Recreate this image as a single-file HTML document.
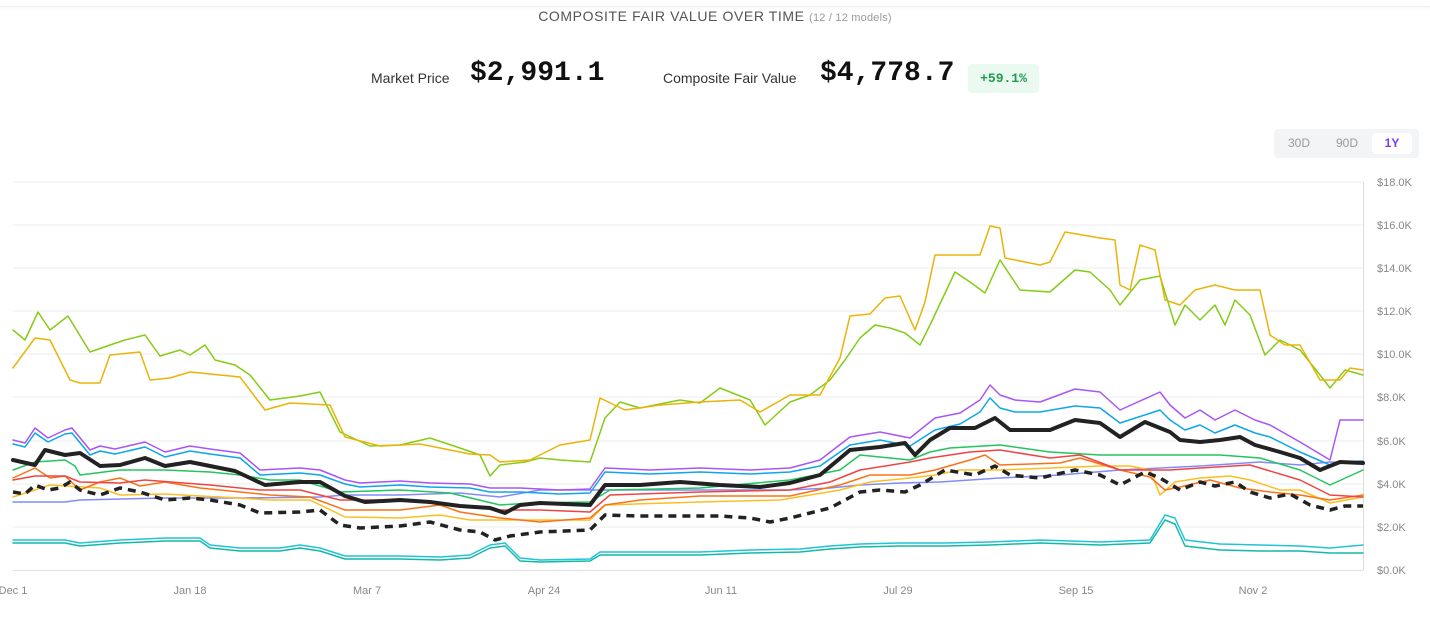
<!DOCTYPE html>
<html><head><meta charset="utf-8"><style>
body{margin:0;width:1430px;height:620px;background:#fff;font-family:"Liberation Sans",sans-serif;position:relative;overflow:hidden}
.topline{position:absolute;left:0;top:0;width:1430px;height:6px;border-bottom:1px solid #f0f0f0;box-shadow:0 1px 3px rgba(0,0,0,0.04)}
.title{position:absolute;top:8px;left:0;width:1430px;text-align:center;font-size:14px;color:#555;letter-spacing:0.6px}
.title small{font-size:11px;color:#999;letter-spacing:0.2px}
.lbl{position:absolute;font-size:14px;color:#333}
.big{position:absolute;font-family:"Liberation Mono",monospace;font-weight:bold;font-size:28px;color:#111}
.badge{position:absolute;left:968px;top:64px;width:71px;height:29px;background:#eafaf0;border-radius:4px;color:#1f9d4a;font-family:"Liberation Mono",monospace;font-size:13px;font-weight:bold;text-align:center;line-height:29px}
.btns{position:absolute;left:1274px;top:129px;width:145px;height:29px;background:#f3f4f6;border-radius:4px}
.btns span{position:absolute;top:4px;height:21px;line-height:21px;font-size:12px;color:#999;text-align:center;width:40px}
.btns .on{background:#fff;color:#7c3aed;font-weight:bold;border-radius:4px}
</style></head><body>
<div class="topline"></div>
<div class="title">COMPOSITE FAIR VALUE OVER TIME <small>(12 / 12 models)</small></div>
<div class="lbl" style="left:371px;top:70px">Market Price</div>
<div class="big" style="left:470px;top:58px">$2,991.1</div>
<div class="lbl" style="left:663px;top:70px">Composite Fair Value</div>
<div class="big" style="left:820px;top:58px">$4,778.7</div>
<div class="badge">+59.1%</div>
<div class="btns"><span style="left:5px">30D</span><span style="left:53px">90D</span><span class="on" style="left:98px">1Y</span></div>
<svg width="1430" height="620" style="position:absolute;left:0;top:0" font-family="Liberation Sans, sans-serif">
<g stroke="#eee" stroke-width="1">
<line x1="13" x2="1363" y1="182" y2="182"/><line x1="13" x2="1363" y1="225" y2="225"/><line x1="13" x2="1363" y1="268" y2="268"/><line x1="13" x2="1363" y1="311" y2="311"/><line x1="13" x2="1363" y1="354" y2="354"/><line x1="13" x2="1363" y1="397" y2="397"/><line x1="13" x2="1363" y1="441" y2="441"/><line x1="13" x2="1363" y1="484" y2="484"/><line x1="13" x2="1363" y1="527" y2="527"/>
</g>
<line x1="13" x2="1363" y1="570.5" y2="570.5" stroke="#ddd"/>
<line x1="1363.5" x2="1363.5" y1="182" y2="570" stroke="#ddd"/>
<g font-size="11" fill="#888">
<text x="1377" y="186">$18.0K</text><text x="1377" y="229">$16.0K</text><text x="1377" y="272">$14.0K</text><text x="1377" y="315">$12.0K</text><text x="1377" y="358">$10.0K</text><text x="1377" y="401">$8.0K</text><text x="1377" y="445">$6.0K</text><text x="1377" y="488">$4.0K</text><text x="1377" y="531">$2.0K</text><text x="1377" y="574">$0.0K</text>
</g>
<g font-size="11" fill="#888" text-anchor="middle">
<text x="13" y="594">Dec 1</text><text x="190" y="594">Jan 18</text><text x="367" y="594">Mar 7</text><text x="544" y="594">Apr 24</text><text x="721" y="594">Jun 11</text><text x="898" y="594">Jul 29</text><text x="1076" y="594">Sep 15</text><text x="1253" y="594">Nov 2</text>
</g>
<g fill="none" stroke-linejoin="round" stroke-linecap="round" stroke-width="1.5">
<polyline stroke="#14b8a6" points="13,543 65,543 80,546 120,543 165,541 200,541 210,548 240,551 280,551 300,548 320,551 345,559 400,559 440,560 470,558 490,548 505,546 520,561 540,562 590,561 600,555 650,555 700,555 750,553 800,552 830,549 860,547 900,546 945,546 990,545 1040,543 1100,545 1150,543 1165,520 1175,524 1185,546 1220,550 1260,551 1300,551 1330,553 1363,553"/>
<polyline stroke="#22c3d6" points="13,540 65,540 80,543 120,540 165,538 200,538 210,545 240,548 280,548 300,545 320,548 345,556 400,556 440,557 470,555 490,545 505,543 520,558 540,560 590,559 600,552 650,552 700,552 750,550 800,549 830,546 860,544 900,543 945,543 990,542 1040,540 1100,542 1150,540 1165,515 1175,518 1185,540 1220,544 1260,545 1300,546 1330,548 1363,545"/>
<polyline stroke="#818cf8" points="13,502 65,502 80,500 165,498 240,498 320,497 345,495 400,495 460,493 500,497 540,490 700,490 790,490 830,488 860,485 900,483 940,482 1000,478 1060,475 1120,470 1200,466 1260,462 1300,465 1330,462 1363,463"/>
<polyline stroke="#fbbf24" points="13,497 35,490 50,485 100,488 120,495 165,494 200,496 240,498 270,500 310,500 345,517 400,518 440,515 470,520 590,520 605,505 700,502 780,500 840,490 870,482 910,478 935,475 960,470 1000,470 1050,468 1100,466 1130,466 1150,470 1160,495 1175,482 1200,478 1230,476 1250,480 1280,490 1300,490 1330,503 1363,497"/>
<polyline stroke="#f97316" points="13,478 35,468 50,478 65,476 80,490 100,482 120,478 140,486 165,482 200,488 240,492 270,495 310,497 345,510 400,510 440,505 460,512 500,518 540,522 590,518 605,505 640,500 700,496 790,496 840,485 870,475 910,475 935,470 970,460 985,455 1000,465 1060,463 1080,458 1120,470 1150,477 1165,490 1180,487 1210,480 1240,488 1270,492 1300,495 1330,500 1363,495"/>
<polyline stroke="#ef4444" points="13,480 35,476 65,476 80,482 120,483 145,480 210,485 260,490 300,490 340,500 400,500 450,505 500,510 540,510 590,512 610,495 700,492 790,490 830,482 860,470 910,462 930,458 970,452 1000,450 1050,458 1080,455 1120,470 1170,470 1200,468 1250,465 1300,480 1330,495 1363,497"/>
<polyline stroke="#22c55e" points="13,470 35,462 65,460 75,466 80,475 120,470 165,470 210,472 240,475 270,480 300,480 340,492 400,490 450,493 500,505 530,503 590,502 610,490 700,488 790,480 840,470 860,455 910,460 930,452 950,448 1000,445 1050,452 1100,455 1220,455 1260,458 1300,470 1330,485 1363,470"/>
<polyline stroke="#0ea5e9" points="13,444 25,447 35,433 48,442 65,434 72,433 90,455 100,451 115,454 145,447 165,457 190,451 210,454 240,458 260,475 300,473 320,475 345,484 360,487 400,485 430,487 470,488 490,492 520,492 560,494 590,493 605,472 650,474 700,472 750,474 790,472 820,466 850,445 880,440 910,446 935,430 960,424 980,412 990,398 1000,408 1015,412 1040,412 1075,406 1100,408 1120,423 1160,410 1170,420 1185,430 1200,425 1215,433 1235,425 1255,433 1270,437 1300,452 1330,465 1340,462 1363,461"/>
<polyline stroke="#a855f7" points="13,440 25,443 35,428 48,438 65,430 72,428 90,450 100,446 115,449 145,442 165,452 190,446 210,449 240,453 260,470 300,468 320,470 345,480 360,483 400,481 430,483 470,484 490,488 520,488 560,490 590,489 605,468 650,470 700,468 750,470 790,468 820,460 850,437 880,432 910,438 935,418 960,413 980,400 990,385 1000,395 1015,400 1040,402 1075,389 1100,392 1120,410 1160,392 1170,405 1185,418 1200,410 1215,420 1235,410 1255,420 1270,425 1300,442 1330,460 1340,420 1363,420"/>
<polyline stroke="#84cc16" points="13,330 25,340 38,312 50,330 68,316 90,352 110,345 125,340 145,335 160,356 180,350 190,355 205,345 215,360 235,365 250,375 270,400 300,396 320,392 340,432 370,446 400,445 430,438 460,448 480,455 490,476 500,465 525,462 540,458 560,460 590,462 605,418 620,402 640,408 680,400 700,403 720,388 750,400 765,425 790,402 810,395 830,380 845,360 860,338 875,325 890,328 905,333 920,345 930,325 955,272 970,282 985,293 1000,260 1020,290 1050,292 1075,270 1090,272 1110,290 1120,305 1140,280 1160,276 1175,325 1185,305 1200,320 1215,305 1225,325 1235,300 1250,315 1265,355 1280,340 1300,350 1320,375 1330,388 1345,370 1363,375"/>
<polyline stroke="#eab308" points="13,368 35,338 50,340 70,380 80,383 100,383 110,355 140,352 150,380 170,378 190,372 220,375 240,377 265,410 290,403 330,405 345,437 380,446 420,444 450,450 470,454 490,455 500,462 530,460 560,445 590,440 600,398 625,410 660,405 700,402 740,400 760,412 790,395 820,395 840,358 850,316 870,314 885,298 900,296 915,330 925,302 935,255 980,255 990,226 1000,228 1005,258 1040,265 1050,262 1065,232 1100,238 1115,240 1120,285 1130,290 1140,245 1155,250 1165,300 1180,305 1195,290 1215,285 1235,290 1260,290 1270,335 1285,345 1300,345 1320,380 1340,380 1350,368 1363,370"/>
<polyline stroke="#222" stroke-width="3.5" stroke-dasharray="8,6" stroke-linecap="butt" points="13,492 25,494 35,485 48,490 60,488 70,482 80,490 100,495 120,488 140,492 165,500 190,498 210,500 240,505 260,513 300,512 320,510 340,525 360,528 400,526 430,522 460,530 480,532 495,540 510,536 540,532 590,530 605,515 640,516 720,516 750,518 770,522 790,518 830,508 860,492 880,490 905,492 920,485 945,470 975,475 995,466 1010,475 1040,478 1075,470 1100,475 1120,485 1145,472 1160,478 1180,490 1200,482 1215,486 1235,482 1250,492 1270,498 1290,494 1310,505 1330,510 1345,506 1363,506"/>
<polyline stroke="#222" stroke-width="4" points="13,460 35,465 45,450 65,455 80,453 100,466 120,465 145,458 165,466 190,462 210,466 235,471 265,485 300,482 320,482 345,496 365,502 400,500 430,502 460,506 490,508 505,513 520,505 540,503 590,505 605,485 640,485 680,482 720,485 760,487 790,483 820,475 850,450 880,447 905,443 915,455 930,440 950,428 975,428 995,418 1010,430 1050,430 1075,420 1100,423 1120,437 1145,422 1170,432 1180,440 1200,442 1220,440 1240,437 1255,445 1280,452 1300,458 1320,470 1340,462 1363,463"/>
</g>
</svg>
</body></html>
